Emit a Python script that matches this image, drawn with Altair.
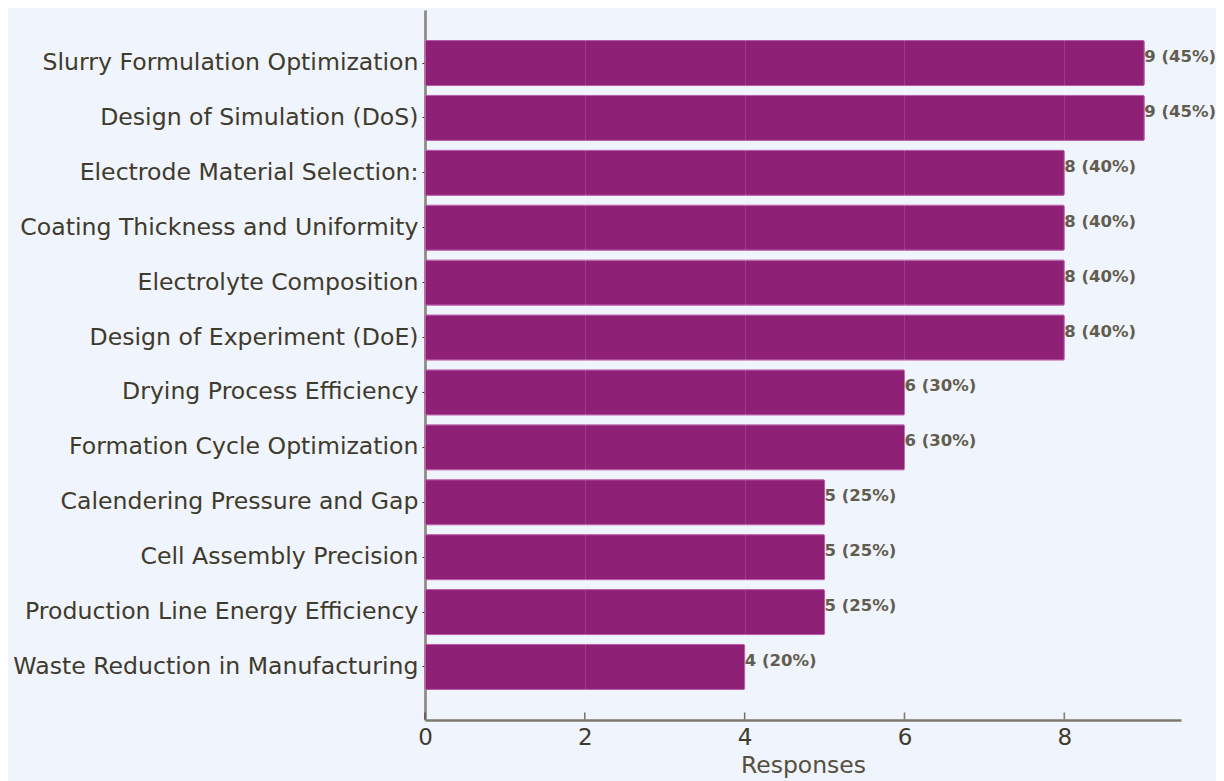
import altair as alt
import pandas as pd

categories = [
    "Slurry Formulation Optimization",
    "Design of Simulation (DoS)",
    "Electrode Material Selection:",
    "Coating Thickness and Uniformity",
    "Electrolyte Composition",
    "Design of Experiment (DoE)",
    "Drying Process Efficiency",
    "Formation Cycle Optimization",
    "Calendering Pressure and Gap",
    "Cell Assembly Precision",
    "Production Line Energy Efficiency",
    "Waste Reduction in Manufacturing",
]
responses = [9, 9, 8, 8, 8, 8, 6, 6, 5, 5, 5, 4]
percents = [45, 45, 40, 40, 40, 40, 30, 30, 25, 25, 25, 20]
tick_values = [0, 2, 4, 6, 8]

df = pd.DataFrame({
    "cat": categories,
    "n": responses,
    "label": [f"{n} ({p}%)" for n, p in zip(responses, percents)],
})
ticks_df = pd.DataFrame({"t": tick_values})

W, H = 756, 710
FONT = "DejaVu Sans"
TXT = "#3f3b2c"

x_scale = alt.Scale(domain=[0, 9.46], nice=False, zero=True)
y_scale = alt.Scale(paddingInner=0.18, paddingOuter=0.556)

bars = alt.Chart(df).mark_bar(color="#8e2176", stroke="#b85aa8", strokeWidth=1,
                              cornerRadius=1).encode(
    x=alt.X("n:Q", scale=x_scale, title="Responses",
            axis=alt.Axis(values=tick_values, format="d", grid=True,
                          gridColor="#ffffff", gridOpacity=0.12, gridWidth=1,
                          ticks=False, domainColor="#7f7a6e", domainWidth=2.5,
                          labelColor=TXT, labelFontSize=23, labelFont=FONT,
                          labelFlush=False,
                          labelPadding=6, titleColor="#55503f", titleFontSize=23.5,
                          titleFont=FONT, titleFontWeight="normal", titlePadding=4,
                          zindex=1)),
    y=alt.Y("cat:N", sort=categories, title=None, scale=y_scale,
            axis=alt.Axis(domainColor="#7f7a6e", domainWidth=2.5, tickColor="#3a2a1a",
                          tickSize=3, labelColor=TXT, labelFontSize=23.6,
                          labelFont=FONT, labelPadding=4, labelLimit=600)),
)

texts = alt.Chart(df).mark_text(align="left", baseline="middle", dx=0, dy=-6,
                                font=FONT, fontSize=16.5, color="#625d4e",
                                fontWeight="bold").encode(
    x=alt.X("n:Q", scale=x_scale),
    y=alt.Y("cat:N", sort=categories, scale=y_scale),
    text="label:N",
)

xticks = alt.Chart(ticks_df).mark_tick(orient="vertical", size=7, thickness=1.5,
                                       color="#3a3020").encode(
    x=alt.X("t:Q", scale=x_scale),
    y=alt.value(H - 4),
)

chart = alt.layer(bars, texts, xticks).properties(
    width=W, height=H,
    background="#f0f4fc",
    padding={"left": 417, "top": 2, "right": 35, "bottom": 63},
    autosize=alt.AutoSizeParams(type="none"),
).configure_view(stroke=None)

chart.save("out.html", embed_options={"renderer": "svg", "actions": False})
